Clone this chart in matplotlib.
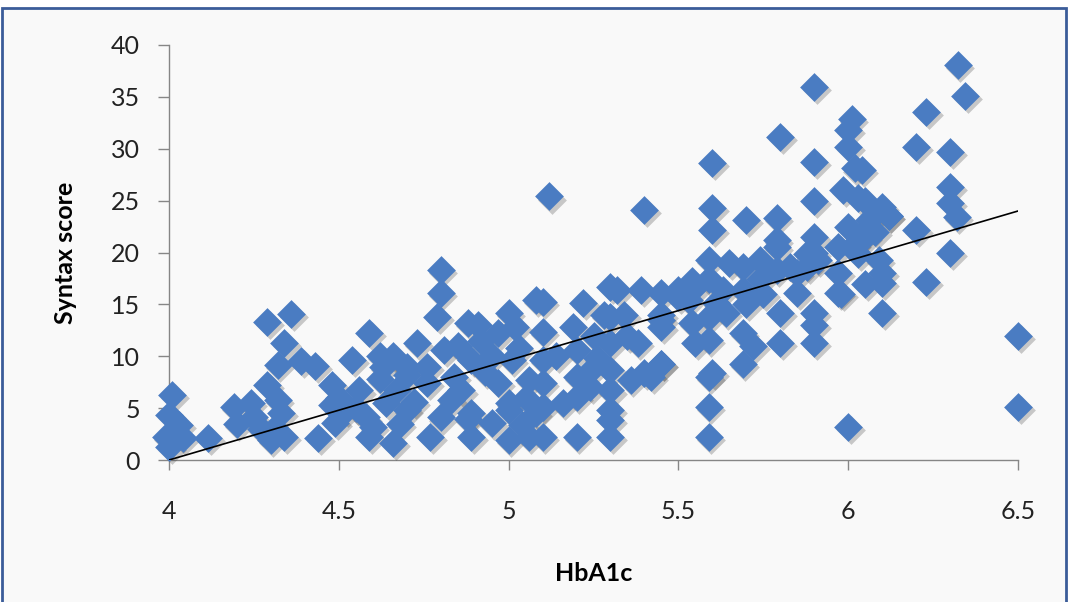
import matplotlib
matplotlib.use("Agg")
import matplotlib.pyplot as plt
from matplotlib.patches import Rectangle
from matplotlib.transforms import ScaledTranslation

# ---------------- data ----------------
hba1c = [
    4.01, 4.00, 4.03, 3.99, 4.00, 4.04, 4.115,
    4.19, 4.24, 4.20, 4.29, 4.36, 4.34, 4.32, 4.39, 4.43, 4.29, 4.32, 4.33, 4.25,
    4.30, 4.34, 4.44, 4.48, 4.48, 4.49, 4.27, 4.31,
    4.80, 4.80, 4.79, 4.88, 4.91, 4.59, 4.73, 4.81, 5.00, 4.97, 5.08, 4.54, 4.63,
    4.89, 5.01, 4.56, 4.67, 4.76, 4.86, 4.97, 5.06, 4.52, 4.58, 4.70, 4.80, 4.89,
    5.00, 5.08, 4.59, 4.66, 4.77, 4.89, 5.00, 5.06, 4.62, 4.70, 4.76, 4.84, 4.93,
    5.03, 4.64, 4.72, 4.83, 4.95, 5.04, 4.60, 4.68, 4.85, 4.92, 5.02,
    4.62, 4.66, 4.70, 4.50, 4.55, 4.95, 5.00, 5.05, 4.88,
    5.10, 5.10, 5.10, 5.10, 5.10, 5.10, 5.20, 5.22, 5.19, 5.20, 5.20, 5.20, 5.12,
    5.30, 5.32, 5.39, 5.30, 5.30, 5.30, 5.30, 5.30, 5.30, 5.30, 5.38, 5.45, 5.45,
    5.40, 5.36, 5.50, 5.55, 5.59, 5.55, 5.59, 5.59, 5.59, 5.59, 5.63, 5.40, 5.14,
    5.25, 5.26, 5.34, 5.16, 5.24, 5.28, 5.25, 5.35, 5.42, 5.45,
    5.45, 5.50, 5.54, 5.59, 5.65, 5.69, 5.74, 5.79, 5.79, 5.83, 5.88, 5.88, 5.97,
    5.97, 6.03, 6.09, 6.10, 5.97, 5.45, 5.54, 5.59, 5.69, 5.69, 5.64, 5.45, 5.80,
    5.90, 5.53, 5.61, 5.69, 5.74, 5.85, 5.60, 5.60, 5.60, 5.70, 5.79, 5.79, 5.80,
    5.90, 5.90, 5.90, 5.90, 5.90, 5.91, 5.90, 5.90, 5.60, 5.80,
    5.70, 5.72, 5.75, 5.85,
    6.01, 6.00, 6.00, 6.02, 6.04, 5.985, 6.03, 6.10, 6.06, 6.00, 6.12, 6.05, 6.02,
    6.08, 6.10, 5.98, 6.00, 6.05, 6.05, 6.05, 6.12, 6.10,
    6.20, 6.23, 6.20, 6.23, 6.30, 6.30, 6.30, 6.32, 6.30, 6.323, 6.344,
    6.50, 6.50,
]
syntax = [
    6.3, 4.3, 3.4, 2.2, 1.3, 2.1, 2.1,
    5.1, 5.5, 3.5, 13.3, 14.1, 11.3, 9.2, 9.5, 9.1, 7.2, 5.8, 4.5, 4.1,
    1.9, 2.2, 2.1, 7.2, 5.3, 3.6, 3.0, 3.0,
    18.3, 16.1, 13.8, 13.2, 13.0, 12.2, 11.3, 10.6, 14.2, 12.2, 15.4, 9.6, 9.0,
    9.6, 9.6, 6.7, 6.7, 7.4, 6.7, 7.4, 7.7, 4.8, 4.1, 4.8, 4.1, 4.5,
    4.8, 4.5, 2.2, 1.6, 2.2, 2.2, 1.9, 2.2, 7.8, 8.2, 9.0, 8.0, 8.5,
    10.8, 5.5, 5.6, 5.8, 3.6, 3.4, 3.2, 3.5, 11.0, 11.5, 12.8,
    10.0, 10.0, 9.0, 6.0, 5.0, 10.0, 5.5, 6.0, 4.0,
    15.2, 12.3, 9.6, 7.4, 5.1, 2.2, 2.2, 15.1, 12.8, 10.6, 8.0, 6.1, 25.4,
    16.7, 16.4, 16.4, 13.8, 11.3, 8.7, 6.7, 4.8, 3.9, 2.2, 11.3, 12.8, 9.3,
    8.4, 7.7, 15.7, 16.7, 19.3, 11.3, 13.8, 8.0, 5.1, 2.2, 16.4, 24.1, 10.0,
    12.0, 9.8, 14.0, 5.5, 7.0, 14.0, 9.0, 12.0, 8.0, 14.0,
    16.1, 16.4, 17.3, 17.4, 19.0, 18.6, 19.3, 20.5, 18.3, 18.6, 19.9, 18.6, 20.5,
    18.0, 19.9, 19.3, 17.1, 16.1, 13.5, 13.2, 11.6, 12.2, 9.3, 14.2, 9.3, 14.2,
    14.2, 15.4, 15.1, 16.4, 17.4, 16.1, 28.6, 24.3, 22.2, 23.1, 23.3, 21.2, 11.3,
    11.3, 13.0, 25.0, 28.7, 21.5, 19.3, 20.0, 36.0, 8.4, 31.1,
    15.0, 11.0, 16.0, 18.0,
    32.9, 31.8, 30.2, 28.1, 28.0, 26.0, 25.3, 24.4, 23.1, 22.5, 23.5, 21.5, 20.8,
    22.0, 14.2, 16.0, 3.2, 25.0, 22.0, 17.0, 23.5, 18.0,
    30.2, 33.5, 22.2, 17.2, 29.7, 26.3, 24.8, 23.4, 20.0, 38.1, 35.1,
    12.0, 5.1,
]
trend_slope = 9.6
trend_intercept = -38.4
x_ticks = [4, 4.5, 5, 5.5, 6, 6.5]
x_tick_labels = ["4", "4.5", "5", "5.5", "6", "6.5"]
y_ticks = [0, 5, 10, 15, 20, 25, 30, 35, 40]
x_label = "HbA1c"
y_label = "Syntax score"

# ---------------- figure ----------------
plt.rcParams['font.family'] = ['Lato', 'DejaVu Sans']
fig = plt.figure(figsize=(10.69, 6.02), dpi=100, facecolor="white")

# panel background with dark-blue border
fig.patches.append(Rectangle((2 / 1069, -0.05), 1 - 5 / 1069, 1.05 - 8 / 602,
                             transform=fig.transFigure, facecolor="#f9f9f9",
                             edgecolor="#3b5c99", linewidth=2, zorder=-10))

ax = fig.add_axes([169 / 1069, 1 - 460 / 602, (1018 - 169) / 1069, (460 - 45) / 602])
ax.set_zorder(5)
ax.set_facecolor("none")
ax.set_xlim(4, 6.5)
ax.set_ylim(0, 40)

# shadows
shadow_tr = ax.transData + ScaledTranslation(1.8 / 72, -2.2 / 72, fig.dpi_scale_trans)
ax.scatter(hba1c, syntax, marker="D", s=215, color="#333333", alpha=0.25,
           linewidths=0, transform=shadow_tr, clip_on=False, zorder=3)
ax.scatter(hba1c, syntax, marker="D", s=215, color="#4a7cc2",
           linewidths=0, clip_on=False, zorder=4)

tx = [4, 6.5]
ty = [trend_slope * v + trend_intercept for v in tx]
ax.plot(tx, ty, color="black", linewidth=1.2, zorder=5)

for s in ["top", "right"]:
    ax.spines[s].set_visible(False)
for s in ["left", "bottom"]:
    ax.spines[s].set_color("#868686")
    ax.spines[s].set_linewidth(1.0)

ax.set_xticks(x_ticks)
ax.set_xticklabels(x_tick_labels)
ax.set_yticks(y_ticks)
ax.tick_params(axis="y", direction="out", length=8, width=1, color="#868686",
               pad=13, labelsize=18, labelcolor="#222222")
ax.tick_params(axis="x", direction="out", length=7, width=1, color="#868686",
               pad=22, labelsize=18, labelcolor="#222222")

ax.set_xlabel(x_label, fontsize=18, fontweight="bold", labelpad=28)
ax.set_ylabel(y_label, fontsize=18, fontweight="bold", labelpad=24)

fig.savefig("out.png", dpi=100, facecolor=fig.get_facecolor())
